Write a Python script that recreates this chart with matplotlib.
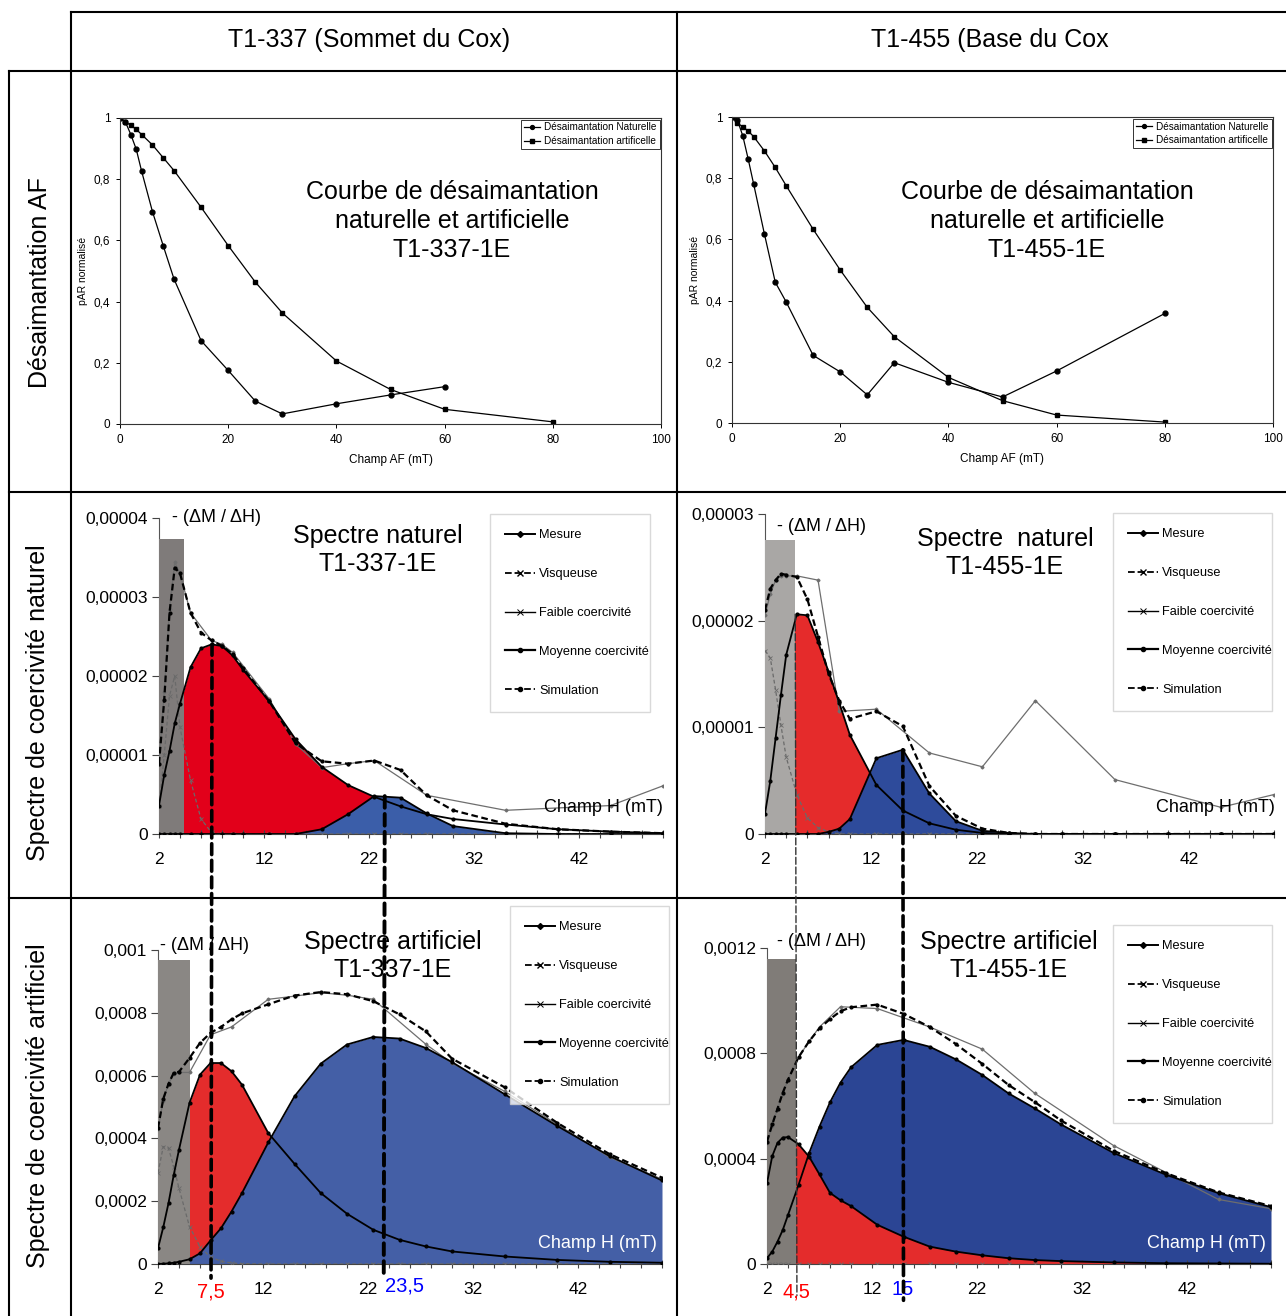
import numpy as np
import matplotlib
matplotlib.use('Agg')
from matplotlib import pyplot as plt
from matplotlib.lines import Line2D
from matplotlib.patches import Rectangle, ConnectionPatch

plt.rcParams['font.family'] = ['Liberation Sans', 'DejaVu Sans']
plt.rcParams['axes.linewidth'] = 0.8

# ---------------- data ----------------
# top row: AF demagnetisation curves (normalised pAR vs champ AF, mT)
af_337_nat_x = [0, 1, 2, 3, 4, 6, 8, 10, 15, 20, 25, 30, 40, 50, 60]
af_337_nat = [1.0, 0.987, 0.946, 0.898, 0.826, 0.694, 0.582, 0.473, 0.272, 0.175, 0.075, 0.033, 0.066, 0.095, 0.122]
af_337_art_x = [0, 1, 2, 3, 4, 6, 8, 10, 15, 20, 25, 30, 40, 50, 60, 80]
af_337_art = [1.0, 0.987, 0.976, 0.963, 0.946, 0.912, 0.870, 0.828, 0.708, 0.583, 0.464, 0.363, 0.206, 0.113, 0.048, 0.007]

af_455_x = [0, 1, 2, 3, 4, 6, 8, 10, 15, 20, 25, 30, 40, 50, 60, 80]
af_455_nat = [1.0, 0.99, 0.938, 0.862, 0.781, 0.617, 0.460, 0.396, 0.221, 0.167, 0.092, 0.197, 0.133, 0.085, 0.170, 0.358]
af_455_art = [1.0, 0.980, 0.968, 0.954, 0.936, 0.889, 0.835, 0.776, 0.633, 0.500, 0.378, 0.282, 0.149, 0.073, 0.026, 0.003]

af_xticks = [0, 20, 40, 60, 80, 100]
af_yticks = [0, 0.2, 0.4, 0.6, 0.8, 1.0]
af_ylabels = ['0', '0,2', '0,4', '0,6', '0,8', '1']
af_legend = ['Désaimantation Naturelle', 'Désaimantation artificelle']

# coercivity spectra: field steps (mT) of the fitted components
h_steps = [2, 2.5, 3, 3.5, 4, 5, 6, 7, 8, 9, 10, 12.5, 15, 17.5, 20, 22.5, 25, 27.5, 30, 35, 40, 45, 50]

# natural spectrum T1-337-1E (x 1e-5)
ml_mes_x = [2, 2.5, 3, 3.5, 4, 5, 7, 8, 9, 12.5, 15, 17.5, 20, 22.5, 27.5, 35, 45, 50]
ml_mes = [0.9, 1.8, 2.85, 3.44, 3.3, 2.8, 2.45, 2.40, 2.30, 1.71, 1.14, 0.84, 0.89, 0.93, 0.49, 0.30, 0.36, 0.61]
ml_visc = [0.35, 1.0, 1.75, 2.0, 1.35, 0.68, 0.19, 0.02, 0, 0, 0, 0, 0, 0, 0, 0, 0, 0, 0, 0, 0, 0, 0]
ml_faible = [0.36, 0.75, 1.05, 1.40, 1.65, 2.11, 2.35, 2.40, 2.38, 2.26, 2.08, 1.68, 1.20, 0.85, 0.62, 0.47,
             0.35, 0.25, 0.19, 0.12, 0.06, 0.03, 0.01]
ml_moy = [0, 0, 0, 0, 0, 0, 0, 0, 0, 0, 0, 0, 0.0, 0.06, 0.25, 0.48, 0.46, 0.26, 0.10, 0.01, 0, 0, 0]
ml_sim = [0.89, 1.7, 2.8, 3.37, 3.3, 2.8, 2.55, 2.45, 2.38, 2.28, 2.1, 1.68, 1.15, 0.92, 0.89, 0.93, 0.81,
          0.49, 0.30, 0.13, 0.06, 0.03, 0.01]

# natural spectrum T1-455-1E (x 1e-5)
mr_mes_x = [2, 2.5, 3, 3.5, 4, 5, 7, 9, 12.5, 17.5, 22.5, 27.5, 35, 45, 50]
mr_mes = [2.05, 2.25, 2.38, 2.42, 2.42, 2.42, 2.38, 1.15, 1.17, 0.76, 0.63, 1.25, 0.51, 0.25, 0.37]
mr_visc = [1.72, 1.65, 1.35, 1.02, 0.72, 0.37, 0.15, 0.06, 0.02, 0, 0, 0, 0, 0, 0, 0, 0, 0, 0, 0, 0, 0, 0]
mr_faible = [0.19, 0.5, 0.9, 1.3, 1.68, 2.06, 2.05, 1.80, 1.52, 1.23, 0.93, 0.46, 0.22, 0.10, 0.04, 0.01,
             0, 0, 0, 0, 0, 0, 0]
mr_moy = [0, 0, 0, 0, 0, 0, 0, 0, 0.02, 0.05, 0.14, 0.71, 0.79, 0.38, 0.12, 0.03, 0.01, 0, 0, 0, 0, 0, 0]
mr_sim = [2.10, 2.30, 2.38, 2.44, 2.43, 2.41, 2.20, 1.85, 1.50, 1.25, 1.08, 1.15, 1.01, 0.45, 0.17, 0.05,
          0.01, 0, 0, 0, 0, 0, 0]

# artificial spectrum T1-337-1E (x 1e-4)
bl_mes_x = [2, 2.5, 3, 3.5, 4, 5, 7, 9, 12.5, 15, 17.5, 20, 22.5, 27.5, 30, 35, 40, 45, 50]
bl_mes = [4.3, 5.2, 5.75, 6.05, 6.1, 6.1, 7.3, 7.55, 8.43, 8.53, 8.64, 8.56, 8.43, 7.0, 6.4, 5.5, 4.45, 3.4, 2.7]
bl_visc = [2.9, 3.74, 3.69, 3.1, 2.41, 1.19, 0.55, 0.22, 0.09, 0.03, 0.01, 0, 0, 0, 0, 0, 0, 0, 0, 0, 0, 0, 0]
bl_faible = [0.5, 1.17, 1.94, 2.84, 3.64, 5.13, 6.03, 6.40, 6.40, 6.14, 5.71, 4.17, 3.19, 2.26, 1.6, 1.09,
             0.77, 0.56, 0.40, 0.24, 0.13, 0.07, 0.04]
bl_moy = [0, 0.01, 0.02, 0.04, 0.07, 0.15, 0.34, 0.75, 1.14, 1.67, 2.26, 3.87, 5.34, 6.38, 6.99, 7.23, 7.18,
          6.88, 6.43, 5.41, 4.4, 3.44, 2.66]
bl_sim = [4.33, 5.26, 5.74, 6.09, 6.12, 6.56, 7.04, 7.36, 7.55, 7.79, 7.98, 8.27, 8.55, 8.66, 8.59, 8.37, 7.95,
          7.41, 6.54, 5.63, 4.5, 3.5, 2.75]

# artificial spectrum T1-455-1E (x 1e-4)
br_mes_x = [2, 2.5, 3, 3.5, 4, 5, 6, 7, 9, 12.5, 17.5, 22.5, 27.5, 35, 45, 50]
br_mes = [4.6, 5.25, 5.9, 6.45, 7.0, 7.85, 8.45, 9.0, 9.77, 9.7, 9.0, 8.16, 6.48, 4.5, 2.45, 2.1]
br_visc = [0] * 23
br_faible = [3.07, 4.1, 4.6, 4.8, 4.82, 4.55, 4.08, 3.4, 2.7, 2.42, 2.2, 1.49, 1.04, 0.66, 0.47, 0.33, 0.22,
             0.15, 0.11, 0.06, 0.03, 0.02, 0.01]
br_moy = [0.22, 0.47, 0.85, 1.29, 1.86, 3.0, 4.2, 5.22, 6.14, 6.89, 7.47, 8.32, 8.51, 8.25, 7.77, 7.18, 6.48,
          5.91, 5.3, 4.22, 3.39, 2.69, 2.16]
br_sim = [4.65, 5.3, 5.9, 6.5, 7.0, 7.85, 8.45, 8.95, 9.3, 9.6, 9.75, 9.85, 9.5, 9.0, 8.35, 7.6, 6.8, 6.15,
          5.45, 4.3, 3.45, 2.72, 2.2]

# viscous zone (grey band): upper field limit, height
ml_band = (4.4, 3.74)
mr_band = (4.85, 2.76)
bl_band = (5.0, 9.67)
br_band = (4.8, 11.57)
# red (faible) area stops where it meets the blue one on the natural T1-337 spectrum
ml_red_until = 22.5

nat_scale = 1e-5
art_scale = 1e-4
ml_yticks = [0, 1, 2, 3, 4]
ml_ylabels = ['0', '0,00001', '0,00002', '0,00003', '0,00004']
mr_yticks = [0, 1, 2, 3]
mr_ylabels = ['0', '0,00001', '0,00002', '0,00003']
bl_yticks = [0, 2, 4, 6, 8, 10]
bl_ylabels = ['0', '0,0002', '0,0004', '0,0006', '0,0008', '0,001']
br_yticks = [0, 4, 8, 12]
br_ylabels = ['0', '0,0004', '0,0008', '0,0012']
h_major = [2, 12, 22, 32, 42]

legend_labels = ['Mesure', 'Visqueuse', 'Faible coercivité', 'Moyenne coercivité', 'Simulation']

# peak fields picked on the spectra (line position, label)
left_peaks = [(7.05, '7,5', 'red'), (23.5, '23,5', 'blue')]
right_peaks = [(4.85, '4,5', 'red'), (15.0, '15', 'blue')]

# ---------------- figure ----------------
W, H = 1286, 1316
fig = plt.figure(figsize=(W / 100, H / 100), dpi=100)


def fx(x):
    return x / W


def fy(y):
    return 1 - y / H


def add_ax(box):
    l, t, r, b = box
    return fig.add_axes([fx(l), fy(b), (r - l) / W, (b - t) / H])


# table frame
frame = [((71, 12), (1286, 12)), ((9, 71), (1286, 71)), ((9, 492), (1286, 492)), ((9, 898), (1286, 898)),
         ((9, 71), (9, 1316)), ((71, 12), (71, 1316)), ((677, 12), (677, 1316))]
for (x0, y0), (x1, y1) in frame:
    fig.add_artist(Line2D([fx(x0), fx(x1)], [fy(y0), fy(y1)], color='black', lw=1.5))

fig.text(fx(369), fy(40), 'T1-337 (Sommet du Cox)', fontsize=18, ha='center', va='center')
fig.text(fx(990), fy(40), 'T1-455 (Base du Cox', fontsize=18, ha='center', va='center')
fig.text(fx(40), fy(283), 'Désaimantation AF', fontsize=18, rotation=90, ha='center', va='center')
fig.text(fx(38), fy(703), 'Spectre de coercivité naturel', fontsize=18, rotation=90, ha='center', va='center')
fig.text(fx(38), fy(1106), 'Spectre de coercivité artificiel', fontsize=18, rotation=90, ha='center',
         va='center')


def af_panel(box, x_nat, nat, x_art, art):
    ax = add_ax(box)
    ax.plot(x_nat, nat, color='black', lw=0.9, marker='o', ms=3.5, label=af_legend[0])
    ax.plot(x_art, art, color='black', lw=0.9, marker='s', ms=3.5, label=af_legend[1])
    ax.set_xlim(0, 100)
    ax.set_ylim(0, 1)
    ax.set_xticks(af_xticks)
    ax.set_yticks(af_yticks)
    ax.set_yticklabels(af_ylabels)
    ax.tick_params(labelsize=8.5, length=3, width=0.7, pad=4)
    ax.set_xlabel('Champ AF (mT)', fontsize=8.5, labelpad=6)
    ax.set_ylabel('pAR normalisé', fontsize=7.5, labelpad=4)
    for s in ax.spines.values():
        s.set_color('#333333')
    leg = ax.legend(loc='upper right', bbox_to_anchor=(1.0, 1.0), fontsize=7.2, frameon=True, fancybox=False,
                    borderaxespad=0.15, borderpad=0.3, labelspacing=0.35, handlelength=1.6,
                    handletextpad=0.4, markerscale=0.8)
    leg.get_frame().set_edgecolor('black')
    leg.get_frame().set_linewidth(0.7)
    return ax


af_panel((120, 118, 661, 424), af_337_nat_x, af_337_nat, af_337_art_x, af_337_art)
af_panel((732, 117, 1273, 423), af_455_x, af_455_nat, af_455_x, af_455_art)
for cx, name in [(452, 'T1-337-1E'), (1047, 'T1-455-1E')]:
    fig.text(fx(cx), fy(221), 'Courbe de désaimantation\nnaturelle et artificielle\n' + name,
             fontsize=18, ha='center', va='center', linespacing=1.25)

legend_handles = [
    Line2D([], [], color='black', lw=1.4, marker='D', ms=3),
    Line2D([], [], color='black', lw=1.3, ls='--', marker='x', ms=4),
    Line2D([], [], color='black', lw=1.0, marker='x', ms=4, mew=0.7),
    Line2D([], [], color='black', lw=1.6, marker='o', ms=3),
    Line2D([], [], color='black', lw=1.3, ls='--', marker='o', ms=3),
]


def spectrum_panel(box, scale, mes_x, mes, visc, faible, moy, sim, band, yticks, ylabels,
                   red, blue, grey, red_on_top, legend_box, red_until=None):
    ax = add_ax(box)
    h = np.array(h_steps)
    fa = np.array(faible) * scale
    mo = np.array(moy) * scale
    z_red, z_blue = (2, 1) if red_on_top else (1, 2)
    red_where = None if red_until is None else h <= red_until
    ax.fill_between(h, 0, fa, where=red_where, color=red, lw=0, zorder=z_red)
    ax.fill_between(h, 0, mo, color=blue, lw=0, zorder=z_blue)
    ax.add_patch(Rectangle((2, 0), band[0] - 2, band[1] * scale, facecolor=grey, edgecolor='none', zorder=3))
    ax.plot(mes_x, np.array(mes) * scale, color='#6e6e6e', lw=0.9, marker='D', ms=1.5, zorder=4)
    ax.plot(h, np.array(visc) * scale, color='#6a6a6a', lw=0.9, ls=(0, (3, 2)), marker='x', ms=3,
            mew=0.6, zorder=4)
    ax.plot(h, fa, color='black', lw=1.3, marker='o', ms=2, zorder=5)
    ax.plot(h, mo, color='black', lw=1.3, marker='o', ms=2, zorder=5)
    ax.plot(h, np.array(sim) * scale, color='black', lw=1.6, ls=(0, (3, 1.6)), marker='o', ms=2, zorder=6)
    ax.set_xlim(2, 50)
    ax.set_ylim(0, yticks[-1] * scale)
    ax.set_xticks(h_major)
    ax.set_xticks(np.arange(2, 51, 2), minor=True)
    ax.set_yticks(np.array(yticks) * scale)
    ax.set_yticklabels(ylabels)
    ax.tick_params(axis='x', which='both', direction='inout', length=6, width=0.8, labelsize=12.5, pad=10,
                   color='#444444')
    ax.tick_params(axis='y', direction='out', length=5, width=0.8, labelsize=12.5, pad=3, color='#444444')
    ax.spines['top'].set_visible(False)
    ax.spines['right'].set_visible(False)
    ax.spines['left'].set_color('#555555')
    ax.spines['bottom'].set_color('#444444')
    ax.patch.set_alpha(0)
    l, t, r, b = legend_box
    leg = ax.legend(legend_handles, legend_labels, loc='upper left',
                    bbox_to_anchor=(fx(l), fy(b), (r - l) / W, (b - t) / H), bbox_transform=fig.transFigure,
                    mode='expand', fontsize=9.2, frameon=True, fancybox=False, borderaxespad=0,
                    borderpad=1.2, labelspacing=2.1, handlelength=2.3, handletextpad=0.35)
    leg.get_frame().set_edgecolor('#d0d0d0')
    leg.get_frame().set_linewidth(1.0)
    leg.set_zorder(8)
    return ax


ax_ml = spectrum_panel((159, 518, 663, 834), nat_scale, ml_mes_x, ml_mes, ml_visc, ml_faible, ml_moy, ml_sim,
                       ml_band, ml_yticks, ml_ylabels, '#e2001a', '#3b5ea9', '#7f7b7a', False,
                       (490, 514, 650, 710), red_until=ml_red_until)
ax_mr = spectrum_panel((765, 514, 1274, 834), nat_scale, mr_mes_x, mr_mes, mr_visc, mr_faible, mr_moy, mr_sim,
                       mr_band, mr_yticks, mr_ylabels, '#e52b2b', '#2e4b9b', '#a9a7a5', False,
                       (1113, 513, 1272, 710))
ax_bl = spectrum_panel((158, 950, 662, 1264), art_scale, bl_mes_x, bl_mes, bl_visc, bl_faible, bl_moy, bl_sim,
                       bl_band, bl_yticks, bl_ylabels, '#e42c2c', '#445fa6', '#8a8784', False,
                       (510, 906, 669, 1100))
ax_br = spectrum_panel((767, 948, 1271, 1264), art_scale, br_mes_x, br_mes, br_visc, br_faible, br_moy, br_sim,
                       br_band, br_yticks, br_ylabels, '#e42c2c', '#2b4594', '#807c78', True,
                       (1113, 925, 1272, 1118))

# panel annotations
for cx, cy, txt in [(378, 550, 'Spectre naturel\nT1-337-1E'), (1005, 553, 'Spectre  naturel\nT1-455-1E'),
                    (393, 956, 'Spectre artificiel\nT1-337-1E'), (1009, 956, 'Spectre artificiel\nT1-455-1E')]:
    fig.text(fx(cx), fy(cy), txt, fontsize=18, ha='center', va='center', zorder=9)
for x0, cy in [(172, 518), (777, 527), (160, 946), (777, 942)]:
    fig.text(fx(x0), fy(cy), '- (ΔM / ΔH)', fontsize=13, ha='left', va='center', zorder=9)
for x1, cy, col in [(663, 808, 'black'), (1275, 808, 'black'), (657, 1243, 'white'), (1266, 1243, 'white')]:
    fig.text(fx(x1), fy(cy), 'Champ H (mT)', fontsize=13, ha='right', va='center', color=col, zorder=9)

# peak fields carried from the natural to the artificial spectra
peak_series = [(ax_ml, ax_bl, left_peaks, [ml_faible, ml_moy], [2.6, 2.8], [-0.045, -0.045]),
               (ax_mr, ax_br, right_peaks, [mr_faible, mr_moy], [1.0, 2.6], [-0.10, -0.115])]
for ax_a, ax_b, peaks, comps, widths, ends in peak_series:
    for (xp, lbl, col), comp, lw, yend in zip(peaks, comps, widths, ends):
        thick = lw > 2
        con = ConnectionPatch(xyA=(xp, max(comp) * nat_scale), coordsA=ax_a.transData,
                              xyB=(xp, yend), coordsB=ax_b.get_xaxis_transform(),
                              color='black' if thick else '#333333', lw=lw,
                              ls=(0, (3, 1.6)) if thick else (0, (5, 2)), zorder=10)
        fig.add_artist(con)

label_pos = [(ax_bl, 7.05, '-0.09'), (ax_bl, 25.5, '-0.07'), (ax_br, 4.8, '-0.09'), (ax_br, 14.9, '-0.08')]
for (ax, xv, yv), (_, lbl, col) in zip(label_pos, left_peaks + right_peaks):
    ax.text(xv, float(yv), lbl, color=col, fontsize=14.5, ha='center', va='center',
            transform=ax.get_xaxis_transform(), clip_on=False, zorder=11)

fig.savefig('out.png', dpi=100, facecolor='white')
